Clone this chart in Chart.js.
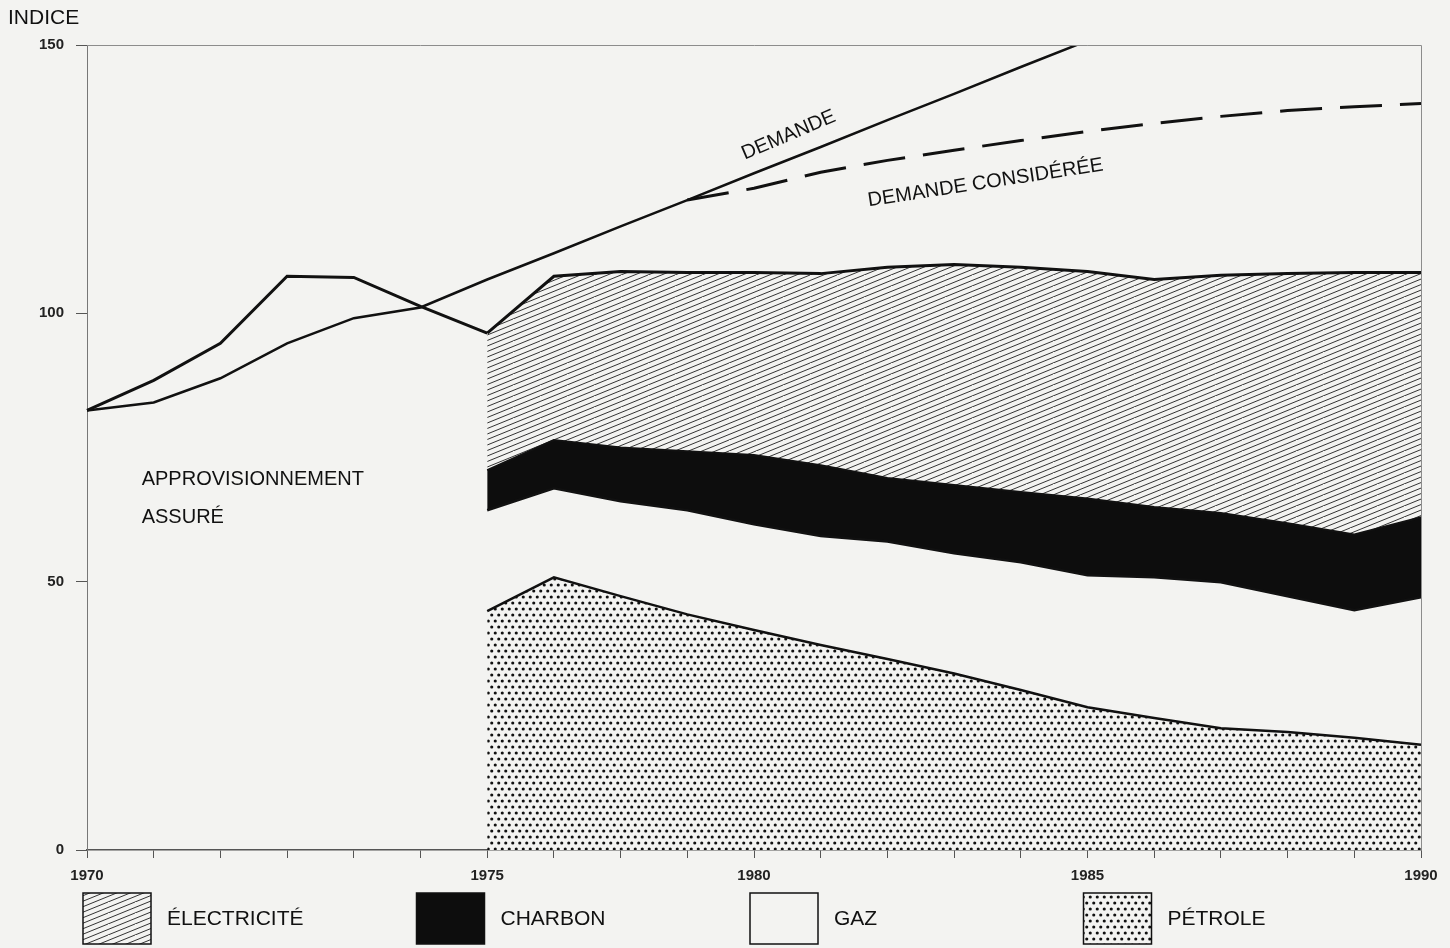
<!DOCTYPE html>
<html>
<head>
<meta charset="utf-8">
<script src="https://cdn.jsdelivr.net/npm/chart.js@4/dist/chart.umd.min.js"></script>
<style>
  html, body { margin: 0; padding: 0; background: #f3f3f1; }
</style>
</head>
<body>
<canvas id="energyChart" width="1450" height="948"></canvas>
<script>
// tick labels (one tick per year, 1970..1990, labels as printed)
const years = ['1970', '', '', '', '', '', '1975', '', '', '', '1980', '', '', '', '', '1985', '', '', '', '', '1990'];

// index values; the energy series are cumulative levels (top edge of each band)
const approvisionnement = [81.9, 87.5, 94.4, 106.9, 106.7, 101.3, 96.3, null, null, null, null, null, null, null, null, null, null, null, null, null, null];
const demande = [81.9, 83.4, 87.9, 94.4, 99.1, 101.1, 106.3, 111.2, 116.2, 121.1, 126.1, 131.0, 136.0, 140.9, 145.9, 150.8, null, null, null, null, null];
const demandeConsideree = [null, null, null, null, null, null, null, null, null, 121.1, 123.3, 126.3, 128.5, 130.4, 132.2, 133.9, 135.4, 136.7, 137.8, 138.5, 139.1];
const petrole = [null, null, null, null, null, null, 44.5, 50.8, 47.3, 43.9, 41.0, 38.2, 35.6, 32.9, 29.8, 26.6, 24.6, 22.7, 22.0, 20.9, 19.6];
const gaz = [null, null, null, null, null, null, 63.3, 67.4, 65.0, 63.3, 60.7, 58.5, 57.5, 55.3, 53.6, 51.2, 50.8, 49.9, 47.3, 44.7, 47.1];
const charbon = [null, null, null, null, null, null, 70.8, 76.4, 75.0, 74.3, 73.6, 71.7, 69.3, 68.0, 66.7, 65.5, 63.9, 62.8, 60.9, 58.8, 62.0];
const electricite = [null, null, null, null, null, null, 96.3, 106.9, 107.8, 107.6, 107.6, 107.4, 108.6, 109.1, 108.6, 107.8, 106.3, 107.1, 107.4, 107.6, 107.6];

const paper = '#f3f3f1';
const ink = '#111';
const font = '"Liberation Sans", Arial, sans-serif';

function hatch() {
  const c = document.createElement('canvas');
  c.width = 27; c.height = 11;
  const g = c.getContext('2d');
  g.fillStyle = paper;
  g.fillRect(0, 0, 27, 11);
  g.strokeStyle = '#333';
  g.lineWidth = 1;
  [-5.5, 0, 5.5, 11].forEach(off => {
    g.beginPath();
    g.moveTo(0, 11 + off);
    g.lineTo(27, off);
    g.stroke();
  });
  return g.createPattern(c, 'repeat');
}

function dots() {
  const c = document.createElement('canvas');
  c.width = 7; c.height = 12;
  const g = c.getContext('2d');
  g.fillStyle = paper;
  g.fillRect(0, 0, 7, 12);
  g.fillStyle = '#111';
  [[1.75, 3], [5.25, 9]].forEach(([x, y]) => {
    g.beginPath();
    g.arc(x, y, 1.55, 0, Math.PI * 2);
    g.fill();
  });
  return g.createPattern(c, 'repeat');
}

const hatchFill = hatch();
const dotFill = dots();

// frame, texts and the legend row under the axis
const decor = {
  id: 'decor',
  afterDraw(chart) {
    const ctx = chart.ctx;
    const a = chart.chartArea;
    const x = chart.scales.x, y = chart.scales.y;
    ctx.save();

    ctx.strokeStyle = '#8c8c8c';
    ctx.lineWidth = 1;
    ctx.beginPath();
    ctx.moveTo(a.left, a.top + 0.5);
    ctx.lineTo(a.right + 0.5, a.top + 0.5);
    ctx.lineTo(a.right + 0.5, a.bottom);
    ctx.stroke();

    ctx.fillStyle = ink;
    ctx.textBaseline = 'middle';
    ctx.font = '21px ' + font;
    ctx.textAlign = 'left';
    ctx.fillText('INDICE', 8, 18);

    ctx.font = '20px ' + font;
    ctx.fillText('APPROVISIONNEMENT', x.getPixelForValue(0.82), y.getPixelForValue(69));
    ctx.fillText('ASSURÉ', x.getPixelForValue(0.82), y.getPixelForValue(62));

    ctx.textAlign = 'center';
    ctx.save();
    ctx.translate(x.getPixelForValue(10.52), y.getPixelForValue(133.2));
    ctx.rotate(-23 * Math.PI / 180);
    ctx.fillText('DEMANDE', 0, 0);
    ctx.restore();

    ctx.save();
    ctx.translate(x.getPixelForValue(13.47), y.getPixelForValue(124.3));
    ctx.rotate(-8.7 * Math.PI / 180);
    ctx.fillText('DEMANDE CONSIDÉRÉE', 0, 0);
    ctx.restore();

    // legend
    const order = [6, 5, 4, 3];
    ctx.textAlign = 'left';
    ctx.font = '21px ' + font;
    order.forEach((di, k) => {
      const ds = chart.data.datasets[di];
      const bx = a.left - 4 + k * a.width / 4;
      const by = a.bottom + 43;
      ctx.fillStyle = ds.swatch;
      ctx.fillRect(bx, by, 68, 51);
      ctx.strokeStyle = ink;
      ctx.lineWidth = 1.5;
      ctx.strokeRect(bx, by, 68, 51);
      ctx.fillStyle = ink;
      ctx.fillText(ds.label, bx + 84, by + 26);
    });
    ctx.restore();
  }
};

const ctx = document.getElementById('energyChart').getContext('2d');
const energyChart = new Chart(ctx, {
  type: 'line',
  data: {
    labels: years,
    datasets: [
      { label: 'APPROVISIONNEMENT ASSURÉ', data: approvisionnement, borderColor: ink, borderWidth: 3, fill: false },
      { label: 'DEMANDE', data: demande, borderColor: ink, borderWidth: 2.5, fill: false },
      { label: 'DEMANDE CONSIDÉRÉE', data: demandeConsideree, borderColor: ink, borderWidth: 3, borderDash: [42, 18], fill: false },
      { label: 'PÉTROLE', data: petrole, borderColor: ink, borderWidth: 2.5, backgroundColor: dotFill, swatch: dotFill, fill: 'origin' },
      { label: 'GAZ', data: gaz, borderColor: ink, borderWidth: 2.5, swatch: paper, fill: false },
      { label: 'CHARBON', data: charbon, borderColor: ink, borderWidth: 2, backgroundColor: '#0d0d0d', swatch: '#0d0d0d', fill: '-1' },
      { label: 'ÉLECTRICITÉ', data: electricite, borderColor: ink, borderWidth: 3, backgroundColor: hatchFill, swatch: hatchFill, fill: '-1' }
    ]
  },
  options: {
    responsive: false,
    animation: false,
    layout: { padding: { top: 45, right: 29, left: 0, bottom: 0 } },
    elements: { point: { radius: 0 }, line: { tension: 0 } },
    plugins: {
      legend: { display: false },
      tooltip: { enabled: false }
    },
    scales: {
      x: {
        grid: { drawOnChartArea: false, tickLength: 8, color: '#555' },
        border: { color: '#555', width: 1.5 },
        ticks: { autoSkip: false, maxRotation: 0, padding: 9, color: '#222', font: { family: font, size: 15, weight: 'bold' } },
        afterFit: s => { s.height = 98; }
      },
      y: {
        min: 0,
        max: 150,
        grid: { drawOnChartArea: false, tickLength: 11, color: '#555' },
        border: { color: '#777', width: 1 },
        ticks: { stepSize: 50, padding: 12, color: '#222', font: { family: font, size: 15, weight: 'bold' } },
        afterFit: s => { s.width = 87; }
      }
    }
  },
  plugins: [decor]
});
</script>
</body>
</html>
